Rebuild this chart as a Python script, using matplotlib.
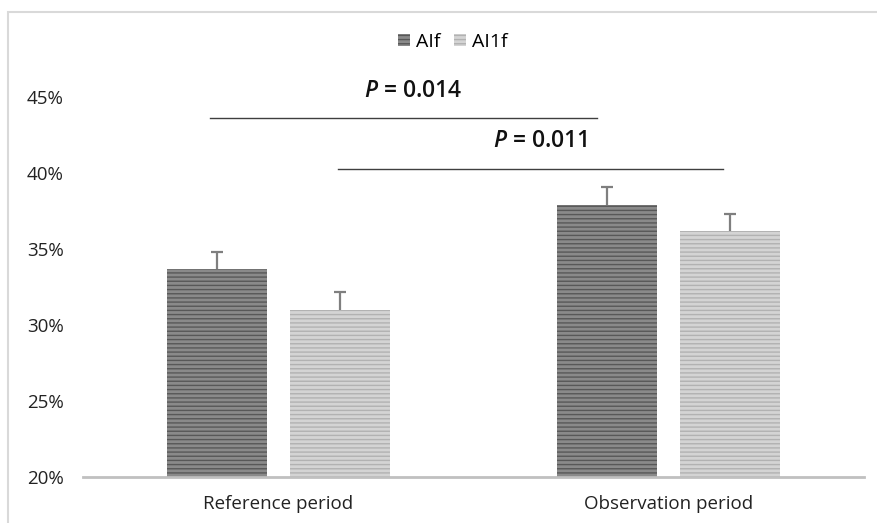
import matplotlib
matplotlib.use("Agg")
import matplotlib.pyplot as plt
from matplotlib.patches import Patch, Rectangle
import numpy as np

# data
periods = ["Reference period", "Observation period"]
aif = [33.7, 37.9]
aif_err = [1.1, 1.2]
ai1f = [31.0, 36.2]
ai1f_err = [1.15, 1.1]
yticks = [20, 25, 30, 35, 40, 45]
sig_labels = ["0.014", "0.011"]

plt.rcParams['font.family'] = ['Open Sans', 'DejaVu Sans']
plt.rcParams['mathtext.fontset'] = 'custom'
plt.rcParams['mathtext.it'] = 'Open Sans:italic:semibold'
plt.rcParams['hatch.linewidth'] = 1.0

fig = plt.figure(figsize=(8.78, 5.23), dpi=100)
ax = fig.add_axes([83/878, 1-477/523, 781/878, (477-51.4)/523])

x = np.array([0.5, 1.5])
w = 0.256
off = 0.1575
styles = [("#8a8a8a", "#585858"), ("#d4d4d4", "#b2b2b2")]
for vals, errs, sign, (fc, hc) in [(aif, aif_err, -1, styles[0]),
                                   (ai1f, ai1f_err, 1, styles[1])]:
    ax.bar(x + sign*off, np.array(vals) - 20, w, bottom=20, color=fc,
           edgecolor=hc, linewidth=0, hatch="----", zorder=2)
    eb = ax.errorbar(x + sign*off, vals, yerr=[np.zeros(2), errs], fmt="none",
                     ecolor="#7f7f7f", elinewidth=1.6, capsize=4.5,
                     capthick=1.6, zorder=1)
    eb[1][0].set_visible(False)  # no lower cap

# significance bars
sig = [((0.325, 1.316), 43.62, 0.845, 45.4),
       ((0.653, 1.639), 40.26, 1.170, 42.1)]
for ((x0, x1), yl, xt, yt), lab in zip(sig, sig_labels):
    ax.plot([x0, x1], [yl, yl], color="#3f3f3f", lw=1.0, clip_on=False)
    ax.text(xt, yt, "$P$ = " + lab, ha="center", va="center",
            fontsize=16.5, fontweight="semibold", color="#111111")

ax.set_xlim(0, 2)
ax.set_ylim(20, 48)
ax.set_yticks(yticks)
ax.set_yticklabels([f"{t}%" for t in yticks])
ax.set_xticks(x)
ax.set_xticklabels(periods)
ax.tick_params(axis="both", length=0, labelsize=13.5, colors="#222222")
ax.tick_params(axis="y", pad=14)
ax.tick_params(axis="x", pad=13)
for s in ["top", "right", "left"]:
    ax.spines[s].set_visible(False)
ax.spines["bottom"].set_color("#c0c0c0")
ax.spines["bottom"].set_linewidth(2.0)

handles = [Patch(facecolor=styles[0][0], edgecolor=styles[0][1], hatch="----", lw=0),
           Patch(facecolor=styles[1][0], edgecolor=styles[1][1], hatch="----", lw=0)]
fig.legend(handles, ["AIf", "AI1f"], loc="center", bbox_to_anchor=(453/878, 1-42/523),
           ncol=2, frameon=False, fontsize=14, handlelength=0.62, handleheight=0.62,
           handletextpad=0.3, columnspacing=0.7)

fig.add_artist(Rectangle((8/878, -0.05), 1.05, 1-12/523+0.05,
                         transform=fig.transFigure, fill=False,
                         edgecolor="#d9d9d9", lw=1.5))

fig.savefig("out.png", dpi=100)
